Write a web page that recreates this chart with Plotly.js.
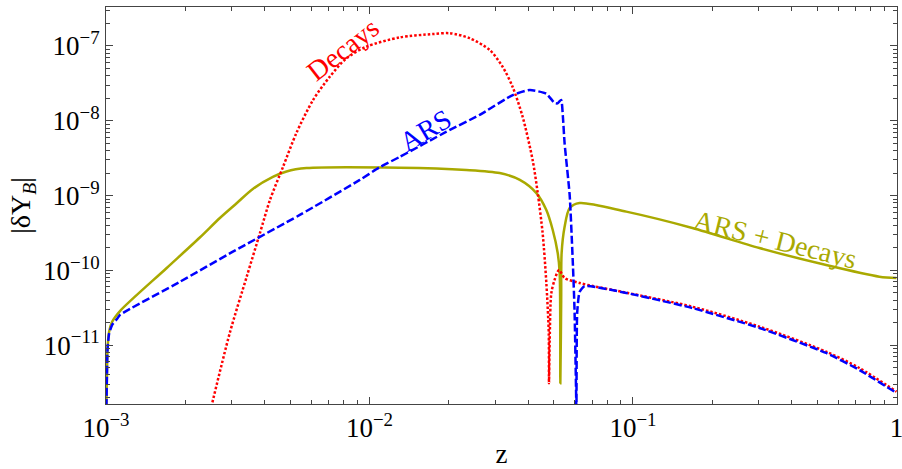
<!DOCTYPE html>
<html>
<head>
<meta charset="utf-8">
<script src="https://cdn.plot.ly/plotly-3.0.1.min.js"></script>
<style>html,body{margin:0;padding:0;background:#fff;}#chart{width:902px;height:469px;}</style>
</head>
<body>
<div id="chart"></div>
<script>
// ARS (blue dashed)
const arsX = [0.001, 0.001004, 0.001009, 0.001013, 0.001027, 0.001054, 0.001101, 0.00113, 0.00191, 0.00303, 0.00544, 0.00919, 0.0109, 0.0130, 0.0196, 0.0262, 0.0350, 0.0406, 0.0469, 0.0504, 0.0517, 0.0534, 0.0542, 0.0550, 0.0575, 0.0592, 0.0600, 0.0609, 0.0610, 0.0614, 0.0627, 0.0655, 0.0943, 0.168, 0.302, 0.541, 0.723, 1.0];
const arsY = [1e-13, 1.64e-12, 4.65e-12, 8.6e-12, 1.41e-11, 1.86e-11, 2.24e-11, 2.54e-11, 7.06e-11, 1.78e-10, 5.51e-10, 1.62e-9, 2.38e-9, 3.28e-9, 7.15e-9, 1.2e-8, 2.21e-8, 2.58e-8, 2.3e-8, 1.73e-8, 1.71e-8, 1.9e-8, 1.14e-8, 5.05e-9, 1.02e-9, 1.12e-10, 2.96e-11, 1.69e-12, 1e-13, 2.69e-11, 5.14e-11, 6.18e-11, 4.99e-11, 3.14e-11, 1.70e-11, 7.87e-12, 4.66e-12, 2.30e-12];

// Decays (red dotted)
const decX = [0.00251, 0.00295, 0.00342, 0.00384, 0.00419, 0.00470, 0.00528, 0.00611, 0.00707, 0.00818, 0.00974, 0.0130, 0.0174, 0.0202, 0.0240, 0.0286, 0.0320, 0.0349, 0.0381, 0.0416, 0.0435, 0.0454, 0.0469, 0.0479, 0.0480, 0.0483, 0.0490, 0.0504, 0.0524, 0.0550, 0.0627, 0.0703, 0.0943, 0.168, 0.302, 0.541, 0.723, 1.0];
const decY = [1.5e-12, 1.46e-11, 8.24e-11, 3.16e-10, 8.73e-10, 2.43e-9, 6.87e-9, 1.9e-8, 3.89e-8, 6.85e-8, 9.79e-8, 1.30e-7, 1.445e-7, 1.48e-7, 1.27e-7, 8.84e-8, 5.28e-8, 2.86e-8, 1.14e-8, 2.99e-9, 1.08e-9, 3.16e-10, 6.79e-11, 1.46e-11, 3.1e-12, 1.17e-11, 4.99e-11, 7.45e-11, 1.01e-10, 7.91e-11, 6.79e-11, 6.18e-11, 5.04e-11, 3.27e-11, 1.77e-11, 8.19e-12, 4.96e-12, 2.39e-12];

// ARS + Decays (olive solid)
const sumX = [0.001, 0.001004, 0.001009, 0.001013, 0.001027, 0.001054, 0.00113, 0.0017, 0.00227, 0.002705, 0.003139, 0.003608, 0.004298, 0.004843, 0.00577, 0.0130, 0.0233, 0.0312, 0.0372, 0.0430, 0.0469, 0.0496, 0.0518, 0.0527, 0.0530, 0.0534, 0.0536, 0.0550, 0.0575, 0.0627, 0.0943, 0.168, 0.302, 0.541, 0.861, 1.0];
const sumY = [1e-13, 1.64e-12, 4.65e-12, 8.6e-12, 1.5e-11, 2.04e-11, 2.86e-11, 1.076e-10, 2.75e-10, 5.02e-10, 7.96e-10, 1.225e-9, 1.774e-9, 2.10e-9, 2.33e-9, 2.36e-9, 2.2e-9, 2.0e-9, 1.62e-9, 1.08e-9, 6.41e-10, 3.47e-10, 1.71e-10, 9.2e-11, 3.1e-12, 4.02e-11, 1.71e-10, 3.8e-10, 6.82e-10, 7.96e-10, 6.1e-10, 3.69e-10, 1.99e-10, 1.18e-10, 8.24e-11, 7.9e-11];

const xTickVals = [0.001, 0.01, 0.1, 1];
const xTickText = ['10<sup>−3</sup>', '10<sup>−2</sup>', '10<sup>−1</sup>', '1'];
const yTickVals = [1e-11, 1e-10, 1e-9, 1e-8, 1e-7];
const yTickText = ['10<sup>−11</sup>', '10<sup>−10</sup>', '10<sup>−9</sup>', '10<sup>−8</sup>', '10<sup>−7</sup>'];

const RED = '#ff0000', BLUE = '#0000ff', OLIVE = '#a9a900';
const FONT = 'Liberation Serif';

function minorVals(e0, e1) {
  const v = [];
  for (let e = e0; e <= e1; e++) for (let d = 2; d <= 9; d++) v.push(d * Math.pow(10, e));
  return v;
}

const traces = [
  {x: sumX, y: sumY, mode: 'lines', line: {color: OLIVE, width: 2.5, shape: 'spline', smoothing: 0.8}, name: 'ARS + Decays'},
  {x: decX, y: decY, mode: 'lines', line: {color: RED, width: 2.5, dash: '2.5px,2px', shape: 'spline', smoothing: 0.8}, name: 'Decays'},
  {x: arsX, y: arsY, mode: 'lines', line: {color: BLUE, width: 2.5, dash: '8px,3px', shape: 'spline', smoothing: 0.5}, name: 'ARS'}
];

const axisCommon = {
  type: 'log', showgrid: false, zeroline: false, showline: true, linecolor: '#444', linewidth: 1,
  mirror: 'allticks', ticks: 'inside', ticklen: 7, tickwidth: 1, tickcolor: '#444',
  ticklabeloverflow: 'allow',
  tickfont: {family: FONT, size: 27, color: '#000'}
};

const layout = {
  width: 902, height: 469,
  margin: {l: 106, r: 5, t: 7, b: 65},
  paper_bgcolor: '#fff', plot_bgcolor: '#fff',
  showlegend: false,
  xaxis: Object.assign({}, axisCommon, {
    range: [-3, 0.002], tickvals: xTickVals, ticktext: xTickText,
    minor: {tickvals: minorVals(-3, -1), ticks: 'inside', ticklen: 4, tickcolor: '#444'},
    title: {text: 'z', font: {family: FONT, size: 27, color: '#000'}, standoff: 4}
  }),
  yaxis: Object.assign({}, axisCommon, {
    range: [-11.786, -6.479], tickvals: yTickVals, ticktext: yTickText,
    minor: {tickvals: minorVals(-12, -7), ticks: 'inside', ticklen: 4, tickcolor: '#444'},
    title: {text: '|δY<sub><i>B</i></sub>|', font: {family: FONT, size: 28, color: '#000'}, standoff: 4}
  }),
  annotations: [
    {xref: 'paper', yref: 'paper', x: 0.2996, y: 0.8917, xanchor: 'center', yanchor: 'middle', text: 'Decays', showarrow: false, textangle: -38,
     font: {family: FONT, size: 28, color: RED}},
    {xref: 'paper', yref: 'paper', x: 0.4033, y: 0.69, xanchor: 'center', yanchor: 'middle', text: 'ARS', showarrow: false, textangle: -31,
     font: {family: FONT, size: 28, color: BLUE}},
    {xref: 'paper', yref: 'paper', x: 0.846, y: 0.415, xanchor: 'center', yanchor: 'middle', text: 'ARS + Decays', showarrow: false, textangle: 14,
     font: {family: FONT, size: 28, color: OLIVE}}
  ]
};

Plotly.newPlot('chart', traces, layout, {displayModeBar: false, staticPlot: true});
</script>
</body>
</html>
